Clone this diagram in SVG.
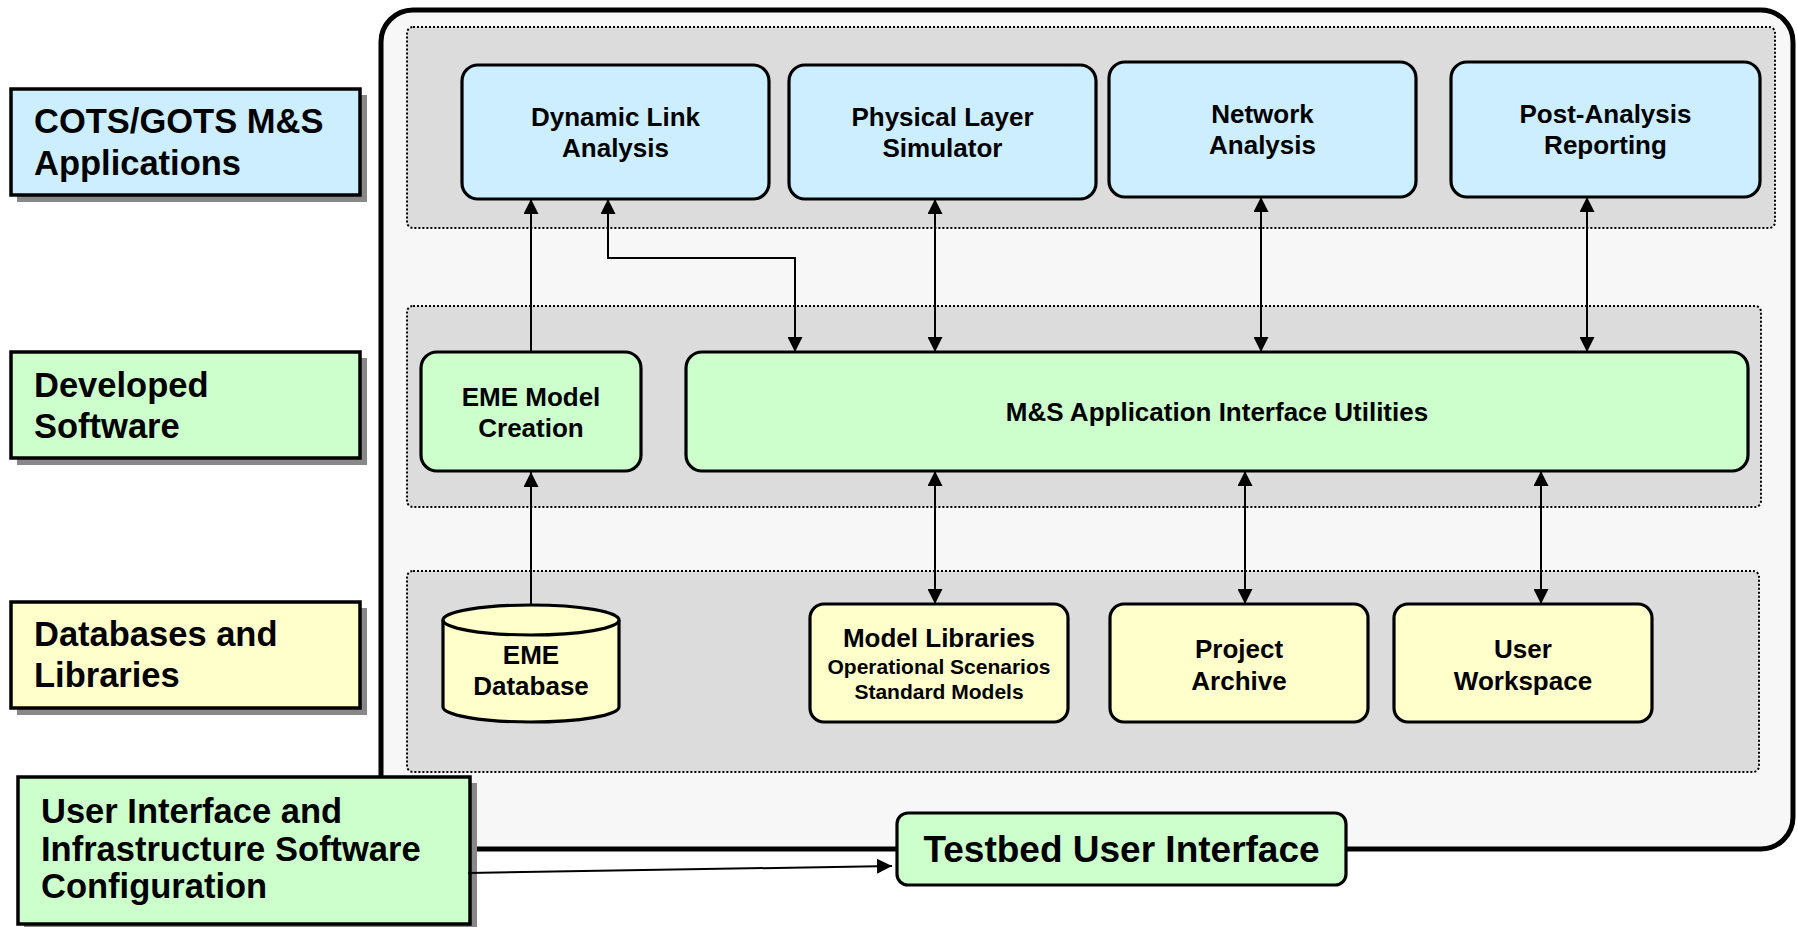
<svg xmlns="http://www.w3.org/2000/svg" width="1798" height="927" viewBox="0 0 1798 927">
  <style>
    text { font-family: "Liberation Sans", Arial, Helvetica, sans-serif; font-weight: bold; fill: #000; }
    .legend { stroke: #000; stroke-width: 3.5; }
    .shadow { fill: #888888; }
    .band { fill: #dcdcdc; stroke: #000; stroke-width: 2; stroke-dasharray: 2 2; }
    .node { stroke: #000; stroke-width: 3.2; }
    .blue { fill: #cceeff; }
    .green { fill: #ccffcc; }
    .yellow { fill: #ffffcc; }
    .leg { font-size: 34.5px; }
    .lbl { font-size: 26px; text-anchor: middle; }
    .small { font-size: 21px; text-anchor: middle; }
    .link { fill: none; stroke: #000; stroke-width: 2; }
  </style>
  <defs>
    <marker id="arrow" markerUnits="userSpaceOnUse" markerWidth="15" markerHeight="15" viewBox="0 0 14 14" refX="14" refY="7" orient="auto-start-reverse">
      <path d="M0,0 L14,7 L0,14 z" fill="#000"/>
    </marker>
  </defs>

  <rect width="1798" height="927" fill="#fff"/>

  <!-- testbed enclosure -->
  <rect id="testbed-frame" x="381" y="10" width="1412" height="839" rx="32" ry="32" fill="#f7f7f7" stroke="#000" stroke-width="5"/>

  <!-- layer bands -->
  <g id="bands">
    <rect class="band" x="407" y="27" width="1368" height="201" rx="6"/>
    <rect class="band" x="407" y="306" width="1354" height="201" rx="6"/>
    <rect class="band" x="407" y="571" width="1352" height="201" rx="6"/>
  </g>

  <!-- legend -->
  <g id="legend-cots">
    <rect class="shadow" x="17" y="95" width="350" height="107"/>
    <rect class="legend blue" x="11" y="89" width="349" height="106"/>
    <text class="leg" x="34" y="133">COTS/GOTS M&amp;S</text>
    <text class="leg" x="34" y="175">Applications</text>
  </g>
  <g id="legend-developed">
    <rect class="shadow" x="17" y="358" width="350" height="107"/>
    <rect class="legend green" x="11" y="352" width="349" height="106"/>
    <text class="leg" x="34" y="397">Developed</text>
    <text class="leg" x="34" y="438">Software</text>
  </g>
  <g id="legend-databases">
    <rect class="shadow" x="17" y="608" width="350" height="107"/>
    <rect class="legend yellow" x="11" y="602" width="349" height="106"/>
    <text class="leg" x="34" y="646">Databases and</text>
    <text class="leg" x="34" y="687">Libraries</text>
  </g>
  <g id="legend-ui">
    <rect class="shadow" x="24" y="783" width="453" height="147"/>
    <rect class="legend green" x="18" y="777" width="452" height="147"/>
    <text class="leg" x="41" y="823">User Interface and</text>
    <text class="leg" x="41" y="861">Infrastructure Software</text>
    <text class="leg" x="41" y="898">Configuration</text>
  </g>

  <!-- applications -->
  <g id="dynamic-link-analysis">
    <rect class="node blue" x="462" y="65" width="307" height="134" rx="16"/>
    <text class="lbl" x="615.5" y="126">Dynamic Link</text>
    <text class="lbl" x="615.5" y="157">Analysis</text>
  </g>
  <g id="physical-layer-simulator">
    <rect class="node blue" x="789" y="65" width="307" height="134" rx="16"/>
    <text class="lbl" x="942.5" y="126">Physical Layer</text>
    <text class="lbl" x="942.5" y="157">Simulator</text>
  </g>
  <g id="network-analysis">
    <rect class="node blue" x="1109" y="62" width="307" height="135" rx="16"/>
    <text class="lbl" x="1262.5" y="123">Network</text>
    <text class="lbl" x="1262.5" y="154">Analysis</text>
  </g>
  <g id="post-analysis-reporting">
    <rect class="node blue" x="1451" y="62" width="309" height="135" rx="16"/>
    <text class="lbl" x="1605.5" y="123">Post-Analysis</text>
    <text class="lbl" x="1605.5" y="154">Reporting</text>
  </g>

  <!-- developed software -->
  <g id="eme-model-creation">
    <rect class="node green" x="421" y="352" width="220" height="119" rx="16"/>
    <text class="lbl" x="531" y="406">EME Model</text>
    <text class="lbl" x="531" y="437">Creation</text>
  </g>
  <g id="ms-interface-utilities">
    <rect class="node green" x="686" y="352" width="1062" height="119" rx="16"/>
    <text class="lbl" x="1217" y="421">M&amp;S Application Interface Utilities</text>
  </g>

  <!-- databases and libraries -->
  <g id="eme-database">
    <path class="node yellow" d="M443,620 L443,707 A88,15 0 0 0 619,707 L619,620 A88,15 0 0 0 443,620 Z"/>
    <path fill="none" stroke="#000" stroke-width="3.2" d="M443,620 A88,15 0 0 0 619,620"/>
    <text class="lbl" x="531" y="664">EME</text>
    <text class="lbl" x="531" y="695">Database</text>
  </g>
  <g id="model-libraries">
    <rect class="node yellow" x="810" y="604" width="258" height="118" rx="14"/>
    <text class="lbl" x="939" y="647">Model Libraries</text>
    <text class="small" x="939" y="674">Operational Scenarios</text>
    <text class="small" x="939" y="699">Standard Models</text>
  </g>
  <g id="project-archive">
    <rect class="node yellow" x="1110" y="604" width="258" height="118" rx="14"/>
    <text class="lbl" x="1239" y="658">Project</text>
    <text class="lbl" x="1239" y="690">Archive</text>
  </g>
  <g id="user-workspace">
    <rect class="node yellow" x="1394" y="604" width="258" height="118" rx="14"/>
    <text class="lbl" x="1523" y="658">User</text>
    <text class="lbl" x="1523" y="690">Workspace</text>
  </g>

  <!-- user interface -->
  <g id="testbed-user-interface">
    <rect class="node green" x="897" y="813" width="449" height="72" rx="11"/>
    <text x="1121.5" y="862" font-size="37" text-anchor="middle">Testbed User Interface</text>
  </g>

  <!-- connectors -->
  <g id="connectors">
    <path class="link" d="M531,605 L531,472" marker-end="url(#arrow)"/>
    <path class="link" d="M531,352 L531,199" marker-end="url(#arrow)"/>
    <path class="link" d="M608,199 L608,258 L795,258 L795,352" marker-start="url(#arrow)" marker-end="url(#arrow)"/>
    <path class="link" d="M935,199 L935,352" marker-start="url(#arrow)" marker-end="url(#arrow)"/>
    <path class="link" d="M1261,197 L1261,352" marker-start="url(#arrow)" marker-end="url(#arrow)"/>
    <path class="link" d="M1587,197 L1587,352" marker-start="url(#arrow)" marker-end="url(#arrow)"/>
    <path class="link" d="M935,471 L935,604" marker-start="url(#arrow)" marker-end="url(#arrow)"/>
    <path class="link" d="M1245,471 L1245,604" marker-start="url(#arrow)" marker-end="url(#arrow)"/>
    <path class="link" d="M1541,471 L1541,604" marker-start="url(#arrow)" marker-end="url(#arrow)"/>
    <path class="link" d="M468,873 L892,866" stroke-width="2.5" marker-end="url(#arrow)"/>
  </g>
</svg>
